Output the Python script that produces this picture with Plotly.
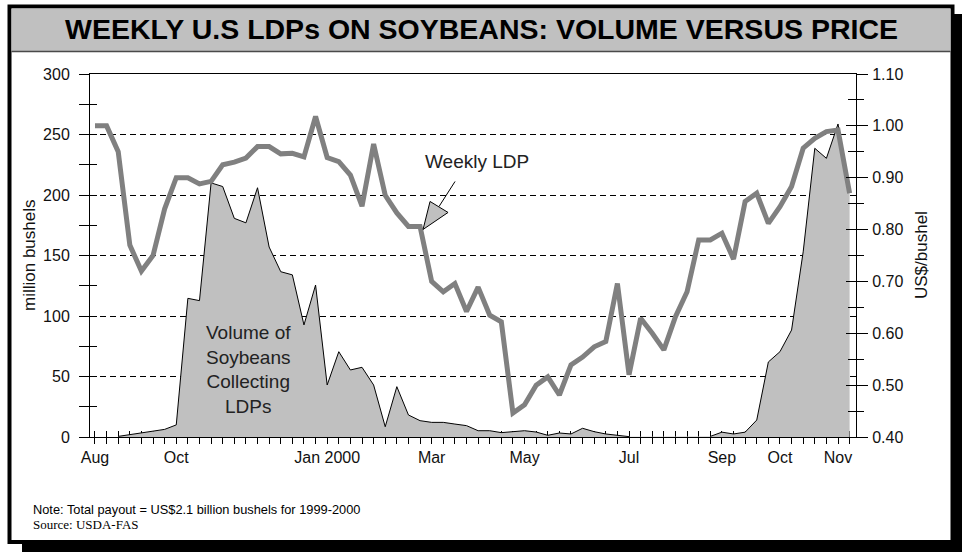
import plotly.graph_objects as go

# ---------------- data ----------------
weeks = list(range(66))  # weekly observations, Aug 1999 - Nov 2000
tick_weeks = [0, 7, 20, 29, 37, 46, 54, 59, 64]
tick_labels = ["Aug", "Oct", "Jan 2000", "Mar", "May", "Jul", "Sep", "Oct", "Nov"]

ldp = [1.00, 1.00, 0.95, 0.77, 0.72, 0.75, 0.84, 0.90, 0.90, 0.888,
       0.893, 0.925, 0.93, 0.938, 0.96, 0.96, 0.946, 0.947, 0.94, 1.018,
       0.939, 0.931, 0.905, 0.845, 0.965, 0.866, 0.832, 0.806, 0.806, 0.70,
       0.68, 0.696, 0.642, 0.689, 0.635, 0.622, 0.446, 0.462, 0.50, 0.516,
       0.481, 0.539, 0.554, 0.574, 0.584, 0.696, 0.52, 0.629, 0.60, 0.568,
       0.632, 0.68, 0.78, 0.78, 0.793, 0.743, 0.854, 0.87, 0.812, 0.844,
       0.883, 0.957, 0.976, 0.989, 0.992, 0.87]

volume = [None, None, 0.5, 2, 3.5, 4.4, 6.3, 10, 114.6, 112.7,
          210, 207, 180.7, 177, 206, 157, 136.6, 134, 92.6, 125.6,
          43, 70.5, 55.4, 57.6, 43, 8.5, 41.6, 18.2, 13.5, 12.1,
          12.1, 10.7, 9.4, 5.2, 5.2, 3.6, 4.1, 5.2, 4.1, 1.4,
          3.3, 2.5, 7.2, 4.4, 2.5, 1.4, 0.3, None, None, None,
          None, None, None, 0.5, 4, 2.5, 4, 14, 62, 70.5,
          88.4, 153, 238.6, 230.3, 258.7, 204]

arrow_week = 28

# ---------------- geometry ----------------
W, H = 962, 552
L, R, T, B = 90, 106, 74, 115
PW, PH = W - L - R, H - T - B
XR = [-0.43, 65.55]
YR = [0, 300]
Y2R = [0.40, 1.10]


def fx(px):
    return (px - L) / PW


def fy(py):
    return (H - B - py) / PH


FONT = "Liberation Sans, Arial, sans-serif"
INK = "#111111"

fig = go.Figure()

fig.add_trace(go.Scatter(
    x=weeks, y=volume, mode="lines", fill="tozeroy",
    fillcolor="#c0c0c0", line=dict(color="black", width=1),
    connectgaps=False, hoverinfo="skip", showlegend=False,
    xaxis="x", yaxis="y"))

fig.add_trace(go.Scatter(
    x=weeks, y=ldp, mode="lines",
    line=dict(color="#808080", width=5),
    hoverinfo="skip", showlegend=False,
    xaxis="x", yaxis="y2"))

# empty traces so the tick-only overlay axes (inner halves of crossing ticks) are drawn
for xa, ya in (("x2", "y"), ("x", "y3"), ("x", "y4")):
    fig.add_trace(go.Scatter(x=[], y=[], mode="lines", showlegend=False,
                             hoverinfo="skip", xaxis=xa, yaxis=ya))

tickfont = dict(family=FONT, size=16, color=INK)

fig.update_layout(
    width=W, height=H,
    margin=dict(l=L, r=R, t=T, b=B),
    paper_bgcolor="white",
    plot_bgcolor="rgba(0,0,0,0)",
    showlegend=False,
    xaxis=dict(
        range=XR, tickmode="array", tickvals=tick_weeks, ticktext=tick_labels,
        ticks="outside", ticklen=6, tickwidth=1, tickcolor="black",
        minor=dict(tickmode="linear", tick0=0, dtick=1, ticks="outside",
                   ticklen=6, tickwidth=1, tickcolor="black"),
        showline=True, linecolor="black", linewidth=1, mirror=True,
        showgrid=False, zeroline=False, tickfont=tickfont,
        fixedrange=True),
    xaxis2=dict(
        range=XR, overlaying="x", anchor="y", side="bottom",
        tickmode="linear", tick0=0, dtick=1, ticks="inside", ticklen=6,
        tickwidth=1, tickcolor="black", showticklabels=False,
        showline=False, showgrid=False, zeroline=False,
        layer="below traces", fixedrange=True),
    yaxis=dict(
        range=YR, dtick=50, ticks="outside", ticklen=10, tickwidth=1,
        tickcolor="black",
        minor=dict(dtick=25, ticks="outside", ticklen=10, tickwidth=1,
                   tickcolor="black"),
        showline=True, linecolor="black", linewidth=1,
        showgrid=True, gridcolor="black", gridwidth=1, griddash="6px,4px",
        zeroline=False, tickfont=tickfont, ticklabelstandoff=6,
        fixedrange=True),
    yaxis3=dict(
        range=YR, overlaying="y", anchor="x", side="left",
        dtick=50, ticks="inside", ticklen=7, tickwidth=1, tickcolor="black",
        minor=dict(dtick=25, ticks="inside", ticklen=7, tickwidth=1,
                   tickcolor="black"),
        showticklabels=False, showline=False, showgrid=False, zeroline=False,
        fixedrange=True),
    yaxis2=dict(
        range=Y2R, overlaying="y", side="right", anchor="x",
        dtick=0.1, tick0=0.4, tickformat=".2f", ticks="outside", ticklen=11,
        tickwidth=1, tickcolor="black",
        minor=dict(dtick=0.05, tick0=0.4, ticks="outside", ticklen=7,
                   tickwidth=1, tickcolor="black"),
        showline=True, linecolor="black", linewidth=1,
        showgrid=False, zeroline=False, tickfont=tickfont,
        ticklabelstandoff=1, fixedrange=True),
    yaxis4=dict(
        range=Y2R, overlaying="y", side="right", anchor="x",
        dtick=0.1, tick0=0.4, ticks="inside", ticklen=10, tickwidth=1,
        tickcolor="black",
        minor=dict(dtick=0.05, tick0=0.4, ticks="inside", ticklen=8,
                   tickwidth=1, tickcolor="black"),
        showticklabels=False, showline=False, showgrid=False, zeroline=False,
        fixedrange=True),
)

# ---------------- frame / title bar ----------------
shapes = [
    dict(type="rect", xref="paper", yref="paper", layer="below",
         x0=fx(22), x1=fx(962), y0=fy(14), y1=fy(552),
         fillcolor="black", line=dict(width=0)),
    dict(type="rect", xref="paper", yref="paper", layer="below",
         x0=fx(9.5), x1=fx(952.5), y0=fy(6.5), y1=fy(542),
         fillcolor="white", line=dict(color="black", width=4)),
    dict(type="rect", xref="paper", yref="paper", layer="below",
         x0=fx(11.5), x1=fx(950.5), y0=fy(8.5), y1=fy(51),
         fillcolor="#c0c0c0", line=dict(width=0)),
    dict(type="line", xref="paper", yref="paper", layer="below",
         x0=fx(11.5), x1=fx(950.5), y0=fy(51.5), y1=fy(51.5),
         line=dict(color="#4a4a4a", width=1.5)),
    # callout arrow pointing at the LDP line
    dict(type="line", xref="x", yref="y2", xsizemode="pixel",
         ysizemode="pixel", xanchor=arrow_week, yanchor=ldp[arrow_week],
         x0=19, y0=20, x1=35, y1=45,
         line=dict(color="black", width=1)),
    dict(type="path", xref="x", yref="y2", xsizemode="pixel",
         ysizemode="pixel", xanchor=arrow_week, yanchor=ldp[arrow_week],
         path="M 3,-3 L 10,25 L 28,14 Z",
         fillcolor="#c0c0c0", line=dict(color="black", width=1)),
]
fig.update_layout(shapes=shapes)

annotations = [
    dict(text="WEEKLY U.S LDPs ON SOYBEANS: VOLUME VERSUS PRICE",
         xref="paper", yref="paper", x=fx(481.5), y=fy(29.5),
         xanchor="center", yanchor="middle", showarrow=False,
         font=dict(family=FONT, size=28.5, color="black", weight="bold")),
    dict(text="million bushels", xref="paper", yref="paper",
         x=fx(29), y=fy(255), textangle=-90, xanchor="center",
         yanchor="middle", showarrow=False,
         font=dict(family=FONT, size=17, color=INK)),
    dict(text="US$/bushel", xref="paper", yref="paper",
         x=fx(921), y=fy(255), textangle=-90, xanchor="center",
         yanchor="middle", showarrow=False,
         font=dict(family=FONT, size=17, color=INK)),
    dict(text="Weekly LDP", xref="x", yref="y2", x=32.9, y=0.931,
         xanchor="center", yanchor="middle", showarrow=False,
         font=dict(family=FONT, size=19, color="#222222")),
    dict(text="Volume of<br>Soybeans<br>Collecting<br>LDPs",
         xref="x", yref="y", x=13.2, y=56, align="center",
         xanchor="center", yanchor="middle", showarrow=False,
         font=dict(family=FONT, size=19, color="#222222")),
    dict(text="Note: Total payout = US$2.1 billion bushels for 1999-2000",
         xref="paper", yref="paper", x=fx(31), y=fy(509),
         xanchor="left", yanchor="middle", showarrow=False,
         font=dict(family=FONT, size=12.8, color="black")),
    dict(text="Source: USDA-FAS",
         xref="paper", yref="paper", x=fx(31), y=fy(524),
         xanchor="left", yanchor="middle", showarrow=False,
         font=dict(family="Liberation Serif, Times New Roman, serif",
                   size=13, color="black")),
]
fig.update_layout(annotations=annotations)

fig.write_html("out.html", config={"displayModeBar": False})
